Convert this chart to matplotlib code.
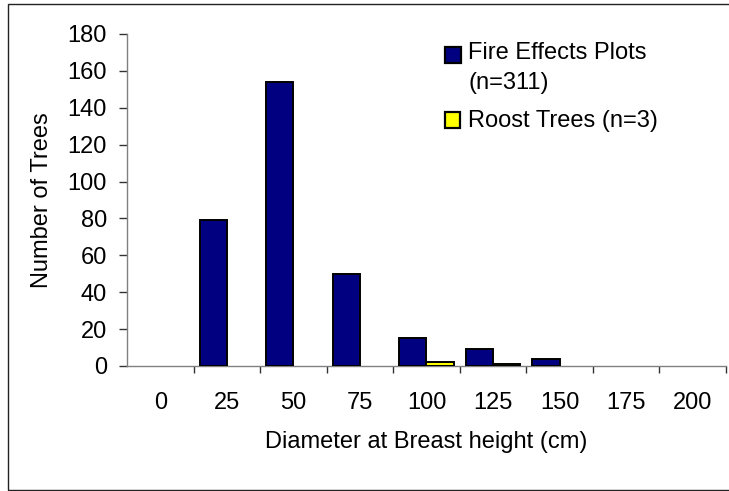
import matplotlib
matplotlib.use("Agg")
import matplotlib.pyplot as plt
import numpy as np
from matplotlib.patches import Rectangle

categories = ["0", "25", "50", "75", "100", "125", "150", "175", "200"]
fire_effects = [0, 79, 154, 50, 15, 9, 4, 0, 0]
roost_trees = [0, 0, 0, 0, 2, 1, 0, 0, 0]
series_labels = ["Fire Effects Plots\n(n=311)", "Roost Trees (n=3)"]
series_colors = ["#000080", "#FFFF00"]
y_ticks = [0, 20, 40, 60, 80, 100, 120, 140, 160, 180]

plt.rcParams['font.family'] = ['Liberation Sans', 'DejaVu Sans']
FS = 17.0

W, H = 729, 491
fig = plt.figure(figsize=(W / 100, H / 100), dpi=100)
fig.patch.set_facecolor('white')

# outer border of the chart area
fig.add_artist(Rectangle((8 / W, 1 - 490 / H), (W + 5 - 8) / W, (490 - 4) / H,
                         transform=fig.transFigure, fill=False,
                         edgecolor='#222222', linewidth=1.0))

ax = fig.add_axes([127 / W, 1 - 366 / H, (726 - 127) / W, (366 - 34) / H])

x = np.arange(len(categories))
w = 0.41
for k, (vals, col) in enumerate([(fire_effects, series_colors[0]),
                                 (roost_trees, series_colors[1])]):
    vals = np.asarray(vals, dtype=float)
    mask = vals > 0
    offset = -w / 2 if k == 0 else w / 2
    ax.bar(x[mask] + offset, vals[mask], width=w, color=col,
           edgecolor='black', linewidth=1.4, zorder=3)

ax.set_xlim(-0.5, len(categories) - 0.5)
ax.set_ylim(0, 180)
ax.set_yticks(y_ticks)
ax.set_xticks(x)
ax.set_xticklabels(categories)
ax.set_xticks(np.arange(len(categories)) + 0.5, minor=True)

for s in ['top', 'right']:
    ax.spines[s].set_visible(False)
for s in ['left', 'bottom']:
    ax.spines[s].set_color('#808080')
    ax.spines[s].set_linewidth(1.0)

ax.tick_params(axis='x', which='major', length=0, pad=18.5, labelsize=FS)
ax.tick_params(axis='x', which='minor', length=5, direction='out', color='#333333', width=1)
ax.tick_params(axis='y', which='major', length=5.5, direction='out', color='#333333',
               width=1, pad=9, labelsize=FS)

fig.text(42 / W, 1 - 200 / H, "Number of Trees", rotation=90, ha='center', va='center', fontsize=FS)
fig.text(426 / W, 1 - 447.7 / H, "Diameter at Breast height (cm)", ha='center', va='baseline', fontsize=FS)

# legend (drawn manually to match the reference layout)
legend_rows = [(series_labels[0], series_colors[0], 46.7, 59.3, 16),
               (series_labels[1], series_colors[1], 112.5, 126.7, 15)]
for label, col, top, base, size in legend_rows:
    fig.add_artist(Rectangle((445 / W, 1 - (top + size) / H), size / W, size / H,
                             transform=fig.transFigure, facecolor=col,
                             edgecolor='black', linewidth=1.6))
    lines = label.split("\n")
    for j, line in enumerate(lines):
        fig.text(468 / W, 1 - (base + 30 * j) / H, line, ha='left', va='baseline', fontsize=FS)

fig.savefig("out.png", dpi=100, facecolor='white')
